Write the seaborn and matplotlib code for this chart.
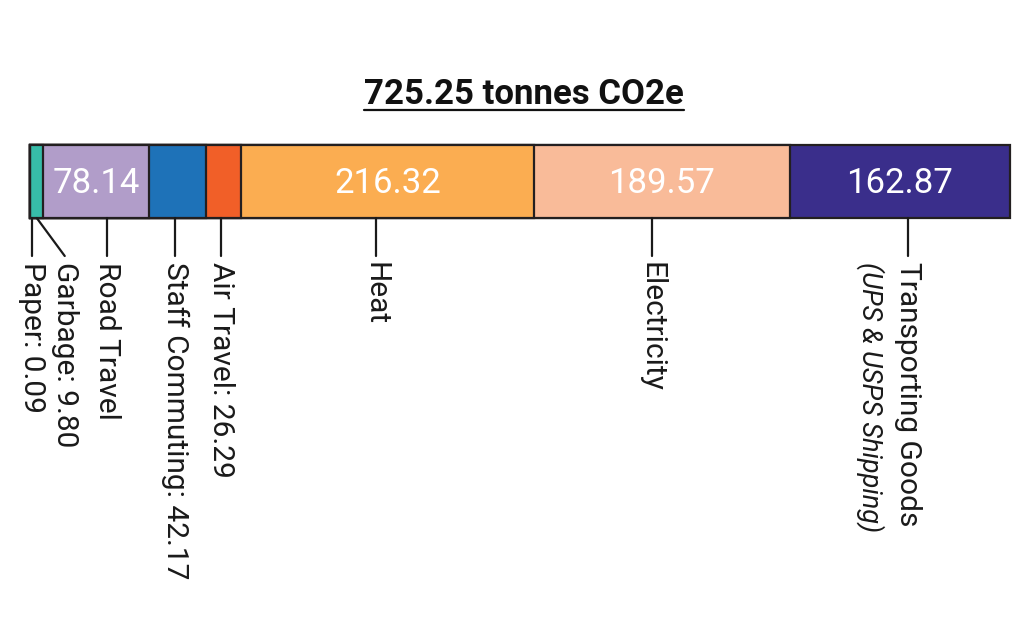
import matplotlib.pyplot as plt
from matplotlib.lines import Line2D
import pandas as pd
import seaborn as sns

# emissions by source, tonnes CO2e
categories = ["Paper", "Garbage", "Road Travel", "Staff Commuting", "Air Travel",
              "Heat", "Electricity", "Transporting Goods"]
values = [0.09, 9.80, 78.14, 42.17, 26.29, 216.32, 189.57, 162.87]
colors = ["#1e1c1f", "#37bca8", "#b19dc9", "#1e72b8", "#f15f28",
          "#fbad51", "#f9bb99", "#3a2e8b"]
subnote = {"Transporting Goods": "(UPS & USPS Shipping)"}

df = pd.DataFrame({"category": categories, "value": values, "color": colors})
df["end"] = df["value"].cumsum()
df["start"] = df["end"] - df["value"]
df["mid"] = (df["start"] + df["end"]) / 2
total = df["value"].sum()

# small pixel nudges for the leader lines (layout only)
nudge = {"Paper": 2, "Road Travel": 11, "Staff Commuting": -2, "Air Travel": -3,
         "Heat": -12, "Electricity": -10, "Transporting Goods": 8}

W, H = 1024, 620
sns.set_theme(style="white")
plt.rcParams["font.family"] = ["Roboto", "DejaVu Sans"]

fig = plt.figure(figsize=(W / 100, H / 100), dpi=100)
bar_top, bar_bot = 145, 218
ax = fig.add_axes([30 / W, 1 - bar_bot / H, 980 / W, (bar_bot - bar_top) / H])

# stacked bar: draw cumulative totals, largest first, so each segment shows
for i in reversed(range(len(df))):
    sns.barplot(x=[df["end"][i]], y=[""], color=df["color"][i], saturation=1,
                width=1, edgecolor="#231f20", linewidth=1.6, ax=ax)
for p in ax.patches:
    p.set_clip_on(False)
ax.set_xlim(0, total)
ax.set_ylim(0.5, -0.5)
ax.axis("off")

ink = "#1a1a1a"


def xpix(v):
    return ax.transData.transform((v, 0))[0]


def line(x0, y0, x1, y1):
    fig.add_artist(Line2D([x0 / W, x1 / W], [1 - y0 / H, 1 - y1 / H],
                          transform=fig.transFigure, color=ink, lw=1.6))


for _, r in df.iterrows():
    cx = xpix(r["mid"])
    big = r["value"] > 50
    if big:
        ax.text(r["mid"], 0.03, f"{r['value']:.2f}", ha="center", va="center",
                color="white", fontsize=25)
        label = r["category"]
    else:
        label = f"{r['category']}: {r['value']:.2f}"

    if r["category"] == "Garbage":
        lx = cx + 28
        line(cx, bar_bot, lx, 256)
    else:
        cx += nudge.get(r["category"], 0)
        lx = cx
        line(cx, bar_bot, cx, 256)

    fig.text(lx / W, 1 - 262 / H, label, rotation=270, ha="center", va="top",
             fontsize=21.5, color=ink)
    if r["category"] in subnote:
        fig.text((lx - 38) / W, 1 - 262 / H, subnote[r["category"]], rotation=270,
                 ha="center", va="top", fontsize=19.5, style="italic", color=ink)

# underlined headline
title = fig.text(524 / W, 1 - 104 / H, f"{total:.2f} tonnes CO2e", ha="center",
                 va="baseline", fontsize=25, fontweight="bold", color="#111111")
fig.canvas.draw()
bb = title.get_window_extent()
uy = H - 110
fig.add_artist(Line2D([bb.x0 / W, bb.x1 / W], [uy / H, uy / H],
                      transform=fig.transFigure, color="#111111", lw=1.6))

fig.savefig("out.png", dpi=100)
